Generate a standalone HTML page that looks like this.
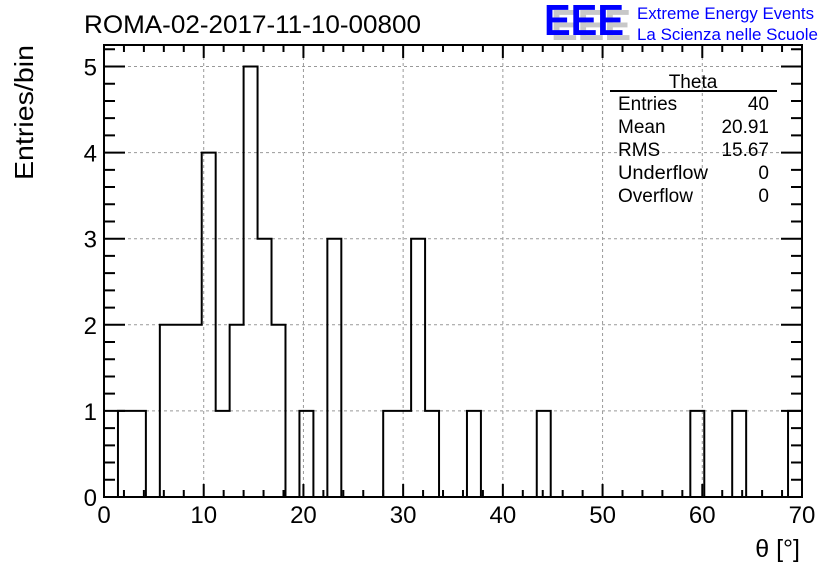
<!DOCTYPE html>
<html><head><meta charset="utf-8"><style>
body{margin:0;background:#fff;}
svg text{font-family:"Liberation Sans",sans-serif;}
</style></head><body>
<svg id="c" width="836" height="572" xmlns="http://www.w3.org/2000/svg">
<rect width="836" height="572" fill="#fff"/>
<text x="84" y="33" font-size="25" textLength="337" lengthAdjust="spacingAndGlyphs">ROMA-02-2017-11-10-00800</text>
<g>
<text x="551" y="40" font-size="44" font-weight="bold" fill="#c8c8c8" textLength="80" lengthAdjust="spacingAndGlyphs">EEE</text>
<text x="544" y="35" font-size="44" font-weight="bold" fill="#0000ff" textLength="80" lengthAdjust="spacingAndGlyphs">EEE</text>
<text x="637" y="19" font-size="17" fill="#0000ff" textLength="177" lengthAdjust="spacingAndGlyphs">Extreme Energy Events</text>
<text x="637" y="40" font-size="17" fill="#0000ff" textLength="181" lengthAdjust="spacingAndGlyphs">La Scienza nelle Scuole</text>
</g>
<g id="grid"></g>
<g id="ticks"></g>
<path id="hist" fill="none" stroke="#000" stroke-width="2"/>
<rect x="104" y="45" width="698" height="452" fill="none" stroke="#000" stroke-width="2"/>
<g id="labels"></g>
<text x="800" y="557" font-size="25" text-anchor="end">θ [°]</text>
<text transform="translate(33,180) rotate(-90)" font-size="26" textLength="135" lengthAdjust="spacingAndGlyphs">Entries/bin</text>
<g font-size="19">
<text x="693" y="88" text-anchor="middle">Theta</text>
<line x1="610" y1="91" x2="777" y2="91" stroke="#000" stroke-width="2"/>
<text x="618" y="110">Entries</text><text x="769" y="110" text-anchor="end">40</text>
<text x="618" y="133">Mean</text><text x="769" y="133" text-anchor="end">20.91</text>
<text x="618" y="156">RMS</text><text x="769" y="156" text-anchor="end">15.67</text>
<text x="618" y="179" textLength="90" lengthAdjust="spacingAndGlyphs">Underflow</text><text x="769" y="179" text-anchor="end">0</text>
<text x="618" y="202">Overflow</text><text x="769" y="202" text-anchor="end">0</text>
</g>
</svg>
<script>
const binCounts=[0,1,1,0,2,2,2,4,1,2,5,3,2,0,1,0,3,0,0,0,1,1,3,1,0,0,1,0,0,0,0,1,0,0,0,0,0,0,0,0,0,0,1,0,0,1,0,0,0,1];
const xTicks=[0,10,20,30,40,50,60,70];
const yTicks=[0,1,2,3,4,5];
const xMin=0,xMax=70,yMax=5.25;
const L=104,R=802,T=45,B=497;
const X=v=>L+(v-xMin)/(xMax-xMin)*(R-L);
const Y=v=>B-v/yMax*(B-T);
const ns="http://www.w3.org/2000/svg";
function mk(p,tag,a){const e=document.createElementNS(ns,tag);for(const k in a)e.setAttribute(k,a[k]);p.appendChild(e);return e;}
const grid=document.getElementById('grid'),ticks=document.getElementById('ticks'),labels=document.getElementById('labels');
xTicks.forEach(v=>{
 if(v>xMin&&v<xMax){const g=mk(grid,'line',{x1:X(v),x2:X(v),y1:T,y2:B,stroke:'#999','stroke-dasharray':'3,3'});
 }
 const t=mk(labels,'text',{x:X(v),y:523,'font-size':24,'text-anchor':'middle'});t.textContent=v;
 
});
yTicks.forEach(v=>{
 if(v>0){const g=mk(grid,'line',{x1:L,x2:R,y1:Y(v),y2:Y(v),stroke:'#999','stroke-dasharray':'3,3'});
 }
 const t=mk(labels,'text',{x:97,y:Y(v)+9,'font-size':24,'text-anchor':'end'});t.textContent=v;
 
});
let d='';
for(let v=xMin;v<=xMax;v+=2){const len=(v%10===0)?13:7;d+=`M${X(v)},${B}v${-len}M${X(v)},${T}v${len}`;}
for(let v=0;v<=yMax+1e-9;v+=0.2){const r=Math.round(v*5);const len=(r%5===0)?21:11;d+=`M${L},${Y(v)}h${len}M${R},${Y(v)}h${-len}`;}
const tk=mk(ticks,'path',{d:d,stroke:'#000','stroke-width':2,fill:'none'});

const bw=(xMax-xMin)/binCounts.length;
let h=`M${X(xMin)},${Y(0)}`;
binCounts.forEach((c,i)=>{h+=`L${X(xMin+i*bw)},${Y(c)}L${X(xMin+(i+1)*bw)},${Y(c)}`;});
h+=`L${X(xMax)},${Y(0)}`;
document.getElementById('hist').setAttribute('d',h);
</script>
</body></html>
